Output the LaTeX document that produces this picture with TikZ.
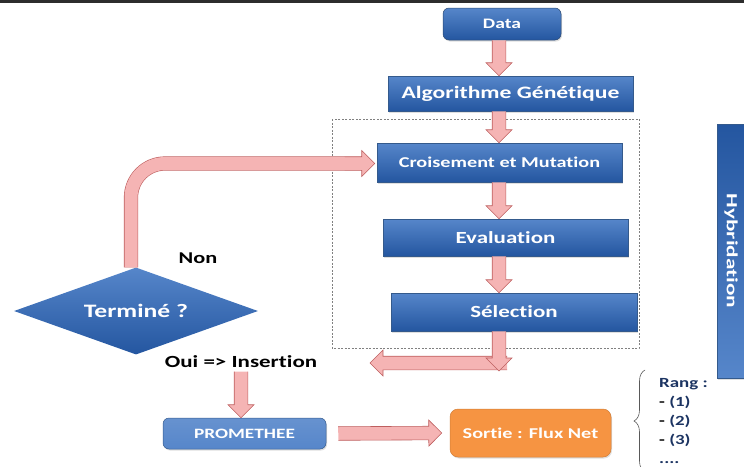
\documentclass[tikz,border=0pt]{standalone}
\usepackage{fontspec}
\setmainfont{Carlito}[FakeStretch=1.35, Ligatures=NoCommon]
\newfontfamily\hybfont{Carlito}[FakeStretch=1.5, Ligatures=NoCommon]
\usetikzlibrary{calc,shapes.geometric,shadows,decorations.markings,decorations.pathreplacing}

\definecolor{boxtop}{RGB}{86,134,202}
\definecolor{boxbot}{RGB}{36,86,160}
\definecolor{boxline}{RGB}{52,90,140}
\definecolor{arrowpink}{RGB}{245,180,180}
\definecolor{arrowedge}{RGB}{190,95,95}
\definecolor{sortieorange}{RGB}{246,148,66}
\definecolor{rangblue}{RGB}{28,52,98}

\newcommand\blockbody{%
	\fill[arrowpink] (0pt,-6.8pt) -- ({\pgfdecoratedpathlength-13pt},-6.8pt) -- ({\pgfdecoratedpathlength-13pt},-13pt) -- ({\pgfdecoratedpathlength},0pt) -- ({\pgfdecoratedpathlength-13pt},13pt) -- ({\pgfdecoratedpathlength-13pt},6.8pt) -- (0pt,6.8pt) -- cycle;
	\draw[arrowedge, line width=0.6pt] (0pt,-6.8pt) -- ({\pgfdecoratedpathlength-13pt},-6.8pt) -- ({\pgfdecoratedpathlength-13pt},-13pt) -- ({\pgfdecoratedpathlength},0pt) -- ({\pgfdecoratedpathlength-13pt},13pt) -- ({\pgfdecoratedpathlength-13pt},6.8pt) -- (0pt,6.8pt);}

\tikzset{
	bluebox/.style={draw=boxline, line width=0.5pt, top color=boxtop, bottom color=boxbot, text=white, inner sep=0pt,
		drop shadow={opacity=0.25, shadow xshift=1pt, shadow yshift=-1.5pt}},
	flow/.style={decorate, decoration={markings, mark=at position 0 with {\blockbody}}},
	bentshaft/.style={draw=arrowedge, line width=0.6pt, double=arrowpink, double distance=13pt},
	plainlabel/.style={font=\bfseries\fontsize{16.5}{19}\selectfont, text=black},
}

\begin{document}
\begin{tikzpicture}[x=1pt, y=-1pt]
			%%%%% START %%%%%
			\useasboundingbox (0,0) rectangle (744,466);
			\fill[gray!35!black] (0,0) rectangle (744,2.5);
			
			\draw[gray, line width=0.5pt, dash pattern=on 2pt off 1.5pt] (332,119) rectangle (639,348);
			
			\node[bluebox, rounded corners=6pt, minimum width=118pt, minimum height=32pt, draw=boxline!80!black, font=\bfseries\fontsize{14.5}{16}\selectfont] (data) at (502,24) {Data};
			\node[bluebox, minimum width=245pt, minimum height=35pt, font=\bfseries\fontsize{17.5}{20}\selectfont] (algo) at (510.5,93.5) {Algorithme Génétique};
			\node[bluebox, minimum width=245pt, minimum height=39pt, font=\bfseries\fontsize{15}{18}\selectfont] (crois) at (499.5,162.5) {Croisement et Mutation};
			\node[bluebox, minimum width=245pt, minimum height=37pt, font=\bfseries\fontsize{17}{20}\selectfont] (eval) at (505.5,237.5) {Evaluation};
			\node[bluebox, minimum width=246pt, minimum height=38pt, font=\bfseries\fontsize{17}{20}\selectfont] (sel) at (514,312) {Sélection};
			
			\node[diamond, aspect=2.8, minimum width=244pt, minimum height=87pt, inner sep=0pt, top color=boxtop, bottom color=boxbot, text=white, font=\bfseries\fontsize{19}{21}\selectfont] (term) at (136,311) {Terminé ?};
			
			\node[bluebox, rotate=-90, minimum width=254pt, minimum height=28pt, top color=boxbot, bottom color=boxtop, drop shadow={opacity=0}, font=\hybfont\bfseries\fontsize{15.5}{18}\selectfont] (hyb) at (731,251) {Hybridation};
			
			\node[plainlabel] (non) at (198,258) {Non};
			\node[plainlabel, font=\bfseries\fontsize{17}{19}\selectfont] (oui) at (241,362) {Oui => Insertion};
			
			\node[bluebox, rounded corners=6pt, minimum width=163pt, minimum height=31pt, top color=boxtop!90, bottom color=boxtop, font=\bfseries\fontsize{14.3}{16}\selectfont] (prom) at (244.5,433.5) {PROMETHEE};
			\node[draw=sortieorange!85!black, line width=0.5pt, fill=sortieorange, rounded corners=8pt, minimum width=161pt, minimum height=48pt, text=white, font=\bfseries\fontsize{15}{18}\selectfont, drop shadow={opacity=0.25, shadow xshift=1pt, shadow yshift=-1.5pt}] (sortie) at (530.5,433) {Sortie : Flux Net};
			
			\node[anchor=west, align=left, inner sep=0pt, text=rangblue, font=\bfseries\fontsize{14}{19}\selectfont] (rang) at (659,421) {Rang :\\ {\color{black}-} (1)\\ {\color{black}-} (2)\\ {\color{black}-} (3)\\ ....};
			\draw[gray!70!black, line width=0.6pt, decorate, decoration={brace, amplitude=11pt}] (645,472) -- (645,370);
			
			% arrows
			\coordinate (axis) at (499,0);
			\coordinate (back) at (499,371);
			\coordinate (backstart) at (507,363);
			\coordinate (backtip) at (370,363);
			\coordinate (nonturn) at ($(crois.west)+(-32,1)$);
			
			\path[flow] (data.south -| axis) -- (algo.north -| axis);
			\path[flow] (algo.south -| axis) -- (crois.north -| axis);
			\path[flow] (crois.south -| axis) -- (eval.north -| axis);
			\path[flow] (eval.south -| axis) -- (sel.north -| axis);
			\path[flow] (backstart) -- (backtip);
			\path[flow] (sel.south -| axis) -- (back);
			
			\draw[bentshaft, rounded corners=34pt] ($(term.north)+(-5,0)$) |- (nonturn);
			\path[flow] (nonturn) -- ($(crois.west)+(-2,1)$);
			
			\path[flow] (oui.south) -- (prom.north -| oui.south);
			\path[flow] ($(prom.east)+(12,0)$) -- ($(sortie.west)+(-8,0)$);
			%%%%% END %%%%%
\end{tikzpicture}
\end{document}
